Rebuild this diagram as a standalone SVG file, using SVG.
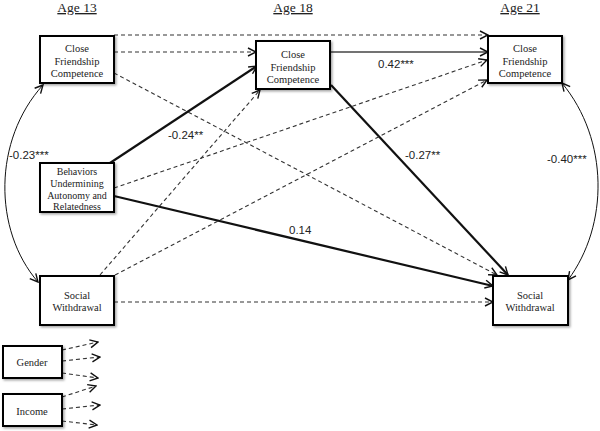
<svg xmlns="http://www.w3.org/2000/svg" width="600" height="431" viewBox="0 0 600 431">
<style>
.box{fill:#fff;stroke:#000;stroke-width:2;filter:url(#sh)}
.bt{font-family:"Liberation Serif",serif;font-size:10.5px;fill:#222;text-anchor:middle}
.age{font-family:"Liberation Serif",serif;font-size:13.5px;fill:#222;text-anchor:middle;text-decoration:underline}
.lab{font-family:"Liberation Sans",Arial,sans-serif;font-size:11.5px;fill:#222}
.d{fill:none;stroke:#333;stroke-width:1.1;stroke-dasharray:4 3;marker-end:url(#ah)}
.s{fill:none;stroke:#111;stroke-width:2.2;marker-end:url(#ah)}
.c{fill:none;stroke:#111;stroke-width:1;marker-end:url(#ah);marker-start:url(#ah)}
</style>
<defs>
<filter id="sh" x="-10%" y="-10%" width="130%" height="130%"><feDropShadow dx="1.5" dy="1.5" stdDeviation="1" flood-color="#000" flood-opacity="0.35"/></filter>
<marker id="ah" markerUnits="userSpaceOnUse" markerWidth="10" markerHeight="10" refX="8" refY="4" orient="auto-start-reverse" viewBox="-1 -1 10 10"><path d="M0,0 L8,4 L0,8" fill="none" stroke="#111" stroke-width="1.4"/></marker>
</defs>
<text class="age" x="77" y="12">Age 13</text>
<text class="age" x="293" y="12">Age 18</text>
<text class="age" x="520" y="12">Age 21</text>
<g id="connectors">
<path class="d" d="M114,35 L488,35"/>
<path class="d" d="M114,52 L256,52"/>
<path class="d" d="M114,73 L497,275"/>
<path class="s" d="M110,163 L257,66"/>
<path class="d" d="M114,188 L487,60"/>
<path class="s" d="M114,196 L493,286"/>
<path class="s" d="M330,52 L488,52" style="stroke-width:1.6;stroke:#444"/>
<path class="s" d="M331,85 L508,275"/>
<path class="d" d="M100,275 L260,90"/>
<path class="d" d="M115,275 L487,80"/>
<path class="d" d="M114,302 L493,302"/>
<path class="c" d="M43,85 C-7,140 -7,230 38,282"/>
<path class="c" d="M562,83 C609,140 609,225 568,280"/>
<path class="d" d="M62,350 L98,342"/>
<path class="d" d="M62,361 L100,357"/>
<path class="d" d="M62,373 L98,378"/>
<path class="d" d="M62,397 L96,386"/>
<path class="d" d="M62,409 L100,405"/>
<path class="d" d="M62,421 L97,425"/>
<text class="lab" x="168" y="139">-0.24**</text>
<text class="lab" x="289" y="234">0.14</text>
<text class="lab" x="378" y="68">0.42***</text>
<text class="lab" x="405" y="159">-0.27**</text>
<text class="lab" x="9" y="159">-0.23***</text>
<text class="lab" x="547" y="163">-0.40***</text>
</g>
<g id="cfc13"><rect class="box" x="40" y="36" width="74" height="47"/><text class="bt" x="77" y="52">Close</text><text class="bt" x="77" y="65">Friendship</text><text class="bt" x="77" y="77">Competence</text></g>
<g id="cfc18"><rect class="box" x="256" y="41" width="74" height="48"/><text class="bt" x="293" y="58">Close</text><text class="bt" x="293" y="71">Friendship</text><text class="bt" x="293" y="83">Competence</text></g>
<g id="cfc21"><rect class="box" x="488" y="36" width="74" height="47"/><text class="bt" x="525" y="52">Close</text><text class="bt" x="525" y="65">Friendship</text><text class="bt" x="525" y="77">Competence</text></g>
<g id="bua13"><rect class="box" x="40" y="163" width="74" height="49"/><text class="bt" x="77" y="175" style="font-size:10px">Behaviors</text><text class="bt" x="77" y="187" style="font-size:10px">Undermining</text><text class="bt" x="77" y="199" style="font-size:10px">Autonomy and</text><text class="bt" x="77" y="210" style="font-size:10px">Relatedness</text></g>
<g id="sw13"><rect class="box" x="40" y="276" width="74" height="49"/><text class="bt" x="77" y="299">Social</text><text class="bt" x="77" y="311">Withdrawal</text></g>
<g id="sw21"><rect class="box" x="493" y="276" width="75" height="49"/><text class="bt" x="530" y="299">Social</text><text class="bt" x="530" y="311">Withdrawal</text></g>
<g id="gender"><rect class="box" x="3" y="346" width="59" height="32"/><text class="bt" x="32" y="366">Gender</text></g>
<g id="income"><rect class="box" x="3" y="394" width="59" height="32"/><text class="bt" x="32" y="415">Income</text></g>
</svg>
